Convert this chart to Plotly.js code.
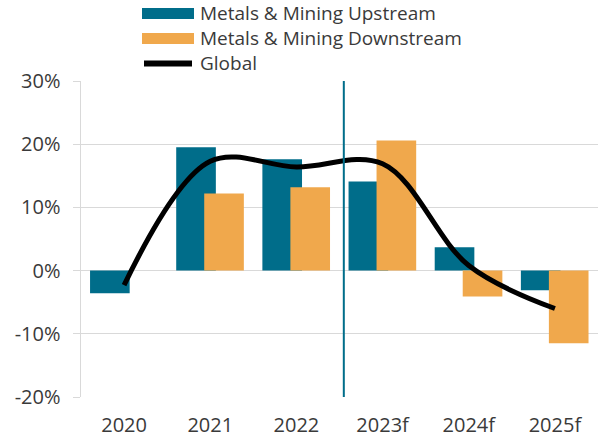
<!DOCTYPE html>
<html>
<head>
<meta charset="utf-8">
<script src="https://cdn.plot.ly/plotly-3.0.1.min.js"></script>
<style>html,body{margin:0;padding:0;background:#fff;}#chart{width:602px;height:438px;}</style>
</head>
<body>
<div id="chart"></div>
<script>
const categories = ["2020", "2021", "2022", "2023f", "2024f", "2025f"];
const upstream = [-3.6, 19.5, 17.6, 14.1, 3.7, -3.1];
const downstream = [0, 12.2, 13.2, 20.6, -4.1, -11.5];
const globalGrowth = [-2.3, 17.3, 16.4, 16.9, 0.8, -6.0];
const seriesNames = ["Metals & Mining Upstream", "Metals & Mining Downstream", "Global"];
const yTicks = [-20, -10, 0, 10, 20, 30];
const yTickText = yTicks.map(v => v + "%");

const teal = "#006d8a";
const orange = "#f0a84c";
const fontFam = "Open Sans, Roboto, sans-serif";
const textColor = "#3a3a3a";
const fs = 20;
const legendFs = 19;

const M = {l: 81, r: 4, t: 81, b: 41};
const W = 602, H = 438;
const plotW = W - M.l - M.r, plotH = H - M.t - M.b;
const px = v => (v - M.l) / plotW;
const py = v => (H - M.b - v) / plotH;

const traces = [
  {type: "bar", x: categories, y: upstream, name: seriesNames[0],
   marker: {color: teal}, width: 0.46, offset: -0.395, showlegend: false},
  {type: "bar", x: categories, y: downstream, name: seriesNames[1],
   marker: {color: orange}, width: 0.46, offset: -0.07, showlegend: false},
  {type: "scatter", mode: "lines", x: categories, y: globalGrowth, name: seriesNames[2],
   line: {color: "#000000", width: 5, shape: "spline", smoothing: 1}, showlegend: false}
];

// custom legend (long swatches as in the reference)
const legendRows = [
  {name: seriesNames[0], kind: "rect", color: teal, cy: 13.5},
  {name: seriesNames[1], kind: "rect", color: orange, cy: 38.5},
  {name: seriesNames[2], kind: "line", color: "#000000", cy: 63.5}
];
const legendShapes = legendRows.map(r => r.kind === "rect"
  ? {type: "rect", xref: "paper", yref: "paper", x0: px(142), x1: px(194), y0: py(r.cy + 5.5), y1: py(r.cy - 5.5),
     fillcolor: r.color, line: {width: 0}}
  : {type: "line", xref: "paper", yref: "paper", x0: px(144), x1: px(192), y0: py(r.cy), y1: py(r.cy),
     line: {color: r.color, width: 6}});
const legendAnn = legendRows.map(r => ({
  xref: "paper", yref: "paper", x: px(198), y: py(r.cy), xanchor: "left", yanchor: "middle",
  text: r.name, showarrow: false, font: {family: fontFam, size: legendFs, color: textColor}
}));

const layout = {
  width: W, height: H,
  margin: M,
  paper_bgcolor: "#ffffff", plot_bgcolor: "#ffffff",
  barmode: "overlay",
  font: {family: fontFam, size: fs, color: textColor},
  showlegend: false,
  xaxis: {type: "category", range: [-0.5, 5.5], showline: false, showgrid: false, zeroline: false,
          ticks: "outside", ticklen: 10, tickcolor: "rgba(0,0,0,0)",
          tickfont: {family: fontFam, size: fs, color: textColor}},
  yaxis: {range: [-20, 30], tickvals: yTicks, ticktext: yTickText, showgrid: true, gridcolor: "#d9d9d9", gridwidth: 1,
          zeroline: true, zerolinecolor: "#d9d9d9", zerolinewidth: 1,
          showline: true, linecolor: "#d9d9d9", linewidth: 1.5,
          ticks: "outside", ticklen: 7, tickcolor: "#d9d9d9", ticklabelstandoff: 8,
          tickfont: {family: fontFam, size: fs, color: textColor}},
  shapes: [
    {type: "line", xref: "x", yref: "paper", x0: 2.55, x1: 2.55, y0: 0, y1: 1,
     line: {color: teal, width: 2}}
  ].concat(legendShapes),
  annotations: legendAnn
};

Plotly.newPlot("chart", traces, layout, {displayModeBar: false, staticPlot: true});
</script>
</body>
</html>
